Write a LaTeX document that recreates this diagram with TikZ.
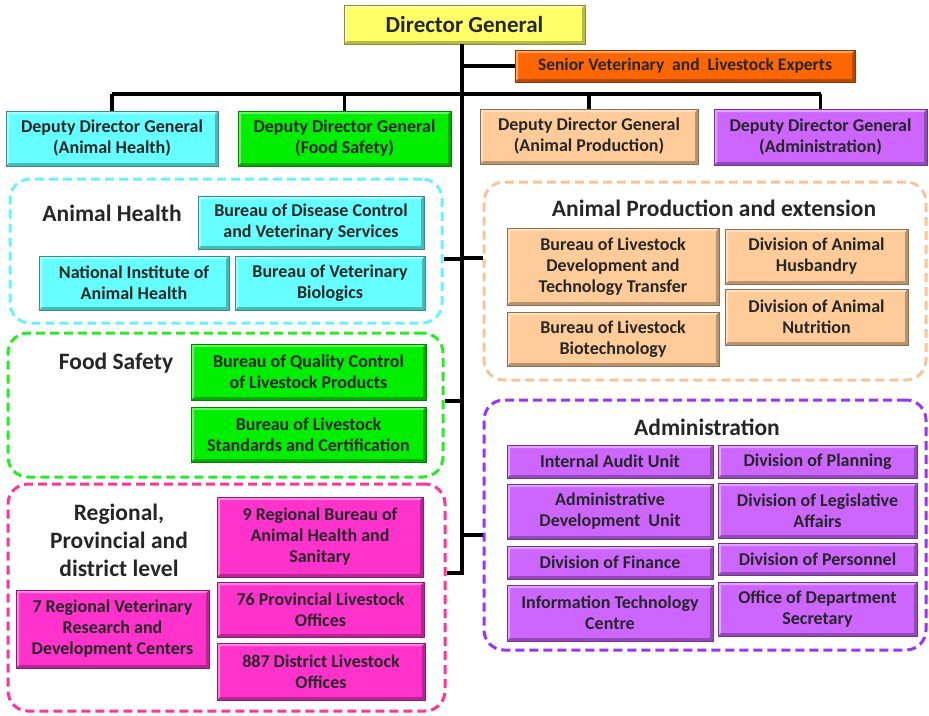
\documentclass[tikz,border=0pt]{standalone}
\usepackage{fontspec}
\setmainfont{Carlito}
\usepackage{tikz}
\usetikzlibrary{positioning}
\usepackage{xcolor}
\definecolor{dgyellow}{HTML}{FFFF66}
\definecolor{expertorange}{HTML}{FF6600}
\definecolor{ahcyan}{HTML}{66FFFF}
\definecolor{fsgreen}{HTML}{00EE00}
\definecolor{appeach}{HTML}{FFCC99}
\definecolor{adpurple}{HTML}{CC66FF}
\definecolor{rpmagenta}{HTML}{FF33CC}
\definecolor{ahdash}{HTML}{66F4FF}
\definecolor{fsdash}{HTML}{22EE22}
\definecolor{apdash}{HTML}{F9C49A}
\definecolor{addash}{HTML}{9933FF}
\definecolor{rpdash}{HTML}{FF3399}
\definecolor{inkgrey}{HTML}{262626}
\tikzset{
    bevel/.style={
        path picture={
            \coordinate (bsw) at (path picture bounding box.south west);
            \coordinate (bne) at (path picture bounding box.north east);
            \coordinate (bnw) at (path picture bounding box.north west);
            \coordinate (bse) at (path picture bounding box.south east);
            \fill[white,opacity=.4] (bsw) -- (bnw) -- (bne) -- ([shift={(-3pt,-3pt)}]bne)
                -- ([shift={(3pt,-3pt)}]bnw) -- ([shift={(3pt,3pt)}]bsw) -- cycle;
            \fill[black,opacity=.28] (bsw) -- (bse) -- (bne) -- ([shift={(-3pt,-3pt)}]bne)
                -- ([shift={(-3pt,3pt)}]bse) -- ([shift={(3pt,3pt)}]bsw) -- cycle;
        }
    },
    orgbox/.style={
        fill={#1},
        draw={#1!55!black},
        line width=0.6pt,
        bevel,
        inner sep=1pt,
        outer sep=0pt,
        align=center,
        text=inkgrey,
        font=\bfseries\fontsize{18}{21}\selectfont
    },
    dgbox/.style={orgbox=dgyellow,font=\bfseries\fontsize{23}{26}\selectfont},
    expbox/.style={orgbox=expertorange,font=\bfseries\fontsize{17.5}{20}\selectfont},
    ahbox/.style={orgbox=ahcyan},
    fsbox/.style={orgbox=fsgreen},
    apbox/.style={orgbox=appeach},
    adbox/.style={orgbox=adpurple},
    rpbox/.style={orgbox=rpmagenta},
    area/.style={
        draw={#1},
        line width=3pt,
        dash pattern=on 9pt off 5pt,
        rounded corners=20pt,
        inner sep=0pt
    },
    areatitle/.style={
        align=center,
        text=inkgrey,
        font=\bfseries\fontsize{23.5}{28}\selectfont
    },
    link/.style={line width=3.5pt,draw=black}
}
\newcommand{\orgbox}[7] {
    \node[#1,minimum width={(#5-#3)*1pt},minimum height={(#6-#4)*1pt}] (#2) at ({(#3+#5)/2}, {(#4+#6)/2}) {#7};
}
\newcommand{\orgarea}[6] {
    \node[area={#1},minimum width={(#5-#3)*1pt},minimum height={(#6-#4)*1pt}] (#2) at ({(#3+#5)/2}, {(#4+#6)/2}) {};
}
\begin{document}
\begin{tikzpicture}[x=1pt,y=-1pt]
    \useasboundingbox (0,0) rectangle (929,715);
    % dashed areas
    \orgarea{ahdash}{ahgrp}{10}{179}{442}{323}
    \orgarea{fsdash}{fsgrp}{8}{333}{443}{477}
    \orgarea{rpdash}{rpgrp}{8}{484}{445}{711}
    \orgarea{apdash}{apgrp}{484}{182}{926}{380}
    \orgarea{addash}{adgrp}{484}{400}{926}{650}
    % top of the tree
    \orgbox{dgbox}{dg}{344}{5}{585}{44}{Director General}
    \orgbox{expbox}{senior}{515}{50}{855}{82}{Senior Veterinary\ \ and\ \ Livestock Experts}
    \orgbox{ahbox}{ddgAH}{6}{111}{218}{166}{Deputy Director General\\(Animal Health)}
    \orgbox{fsbox}{ddgFS}{238}{111}{451}{166}{Deputy Director General\\(Food Safety)}
    \orgbox{apbox}{ddgAP}{480}{109}{698}{164}{Deputy Director General\\(Animal Production)}
    \orgbox{adbox}{ddgAD}{714}{109}{927}{165}{Deputy Director General\\(Administration)}
    % connectors
    \coordinate (bar) at (462,94);
    \coordinate (trunkend) at (462,573);
    \coordinate (jAH) at (462,259);
    \coordinate (jFS) at (462,401);
    \coordinate (jAP) at (462,258);
    \coordinate (jAD) at (462,535);
    \draw[link] (dg.south -| trunkend) -- (trunkend) -- (trunkend -| rpgrp.east);
    \draw[link] (trunkend |- senior.west) -- (senior.west);
    \draw[link] (ddgAH.north |- bar) -- (ddgAD.north |- bar);
    \foreach \d in {ddgAH,ddgFS,ddgAP,ddgAD}
        \draw[link] (\d.north |- bar) -- (\d.north);
    \draw[link] (jAH) -- (jAH -| ahgrp.east);
    \draw[link] (jFS) -- (jFS -| fsgrp.east);
    \draw[link] (jAP) -- (jAP -| apgrp.west);
    \draw[link] (jAD) -- (jAD -| adgrp.west);
    % animal health
    \node[areatitle] (ahtitle) at (112,213) {Animal Health};
    \orgbox{ahbox}{disease}{198}{196}{424}{249}{Bureau of Disease Control\\and Veterinary Services}
    \orgbox{ahbox}{nias}{39}{256}{229}{310}{National Institute of\\Animal Health}
    \orgbox{ahbox}{biologics}{235}{256}{425}{310}{Bureau of Veterinary\\Biologics}
    % food safety
    \node[areatitle] (fstitle) at (116,363) {Food Safety};
    \orgbox{fsbox}{quality}{191}{344}{426}{400}{Bureau of Quality Control\\of Livestock Products}
    \orgbox{fsbox}{standards}{191}{407}{426}{462}{Bureau of Livestock\\Standards and Certification}
    % regional, provincial and district
    \node[areatitle] (rptitle) at (119,540) {Regional,\\Provincial and\\district level};
    \orgbox{rpbox}{regbureau}{217}{497}{423}{577}{9 Regional Bureau of\\Animal Health and\\Sanitary}
    \orgbox{rpbox}{provincial}{217}{582}{424}{637}{76 Provincial Livestock\\Offices}
    \orgbox{rpbox}{district}{217}{643}{425}{700}{887 District Livestock\\Offices}
    \orgbox{rpbox}{vetcenters}{16}{590}{209}{668}{7 Regional Veterinary\\Research and\\Development Centers}
    % animal production
    \node[areatitle] (aptitle) at (714,208) {Animal Production and extension};
    \orgbox{apbox}{devtech}{507}{228}{719}{305}{Bureau of Livestock\\Development and\\Technology Transfer}
    \orgbox{apbox}{biotech}{507}{312}{719}{366}{Bureau of Livestock\\Biotechnology}
    \orgbox{apbox}{husbandry}{725}{229}{908}{284}{Division of Animal\\Husbandry}
    \orgbox{apbox}{nutrition}{725}{289}{908}{345}{Division of Animal\\Nutrition}
    % administration
    \node[areatitle] (adtitle) at (707,427) {Administration};
    \orgbox{adbox}{audit}{507}{445}{713}{478}{Internal Audit Unit}
    \orgbox{adbox}{admdev}{507}{484}{713}{539}{Administrative\\Development\ \ Unit}
    \orgbox{adbox}{finance}{507}{546}{713}{579}{Division of Finance}
    \orgbox{adbox}{ittc}{507}{585}{713}{641}{Information Technology\\Centre}
    \orgbox{adbox}{planning}{718}{445}{917}{478}{Division of Planning}
    \orgbox{adbox}{legis}{718}{483}{917}{538}{Division of Legislative\\Affairs}
    \orgbox{adbox}{personnel}{718}{543}{917}{575}{Division of Personnel}
    \orgbox{adbox}{deptsec}{718}{582}{917}{636}{Office of Department\\Secretary}
\end{tikzpicture}
\end{document}
